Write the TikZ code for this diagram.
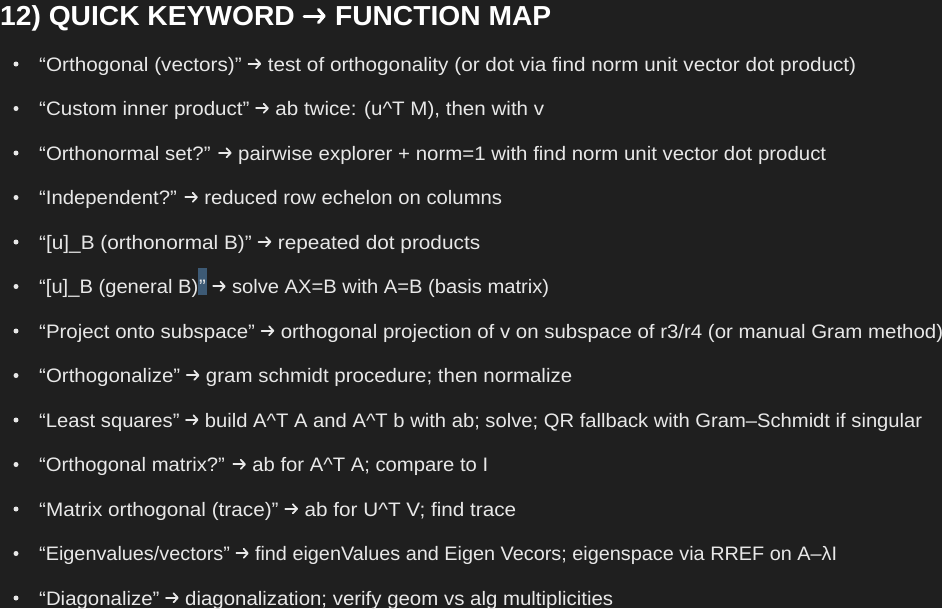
\documentclass[tikz,border=0pt]{standalone}
\usepackage{fontspec}
\usepackage{graphicx}
\usetikzlibrary{arrows.meta}
\setmainfont{Liberation Sans}
\definecolor{bgc}{HTML}{1F1F1F}
\definecolor{txt}{HTML}{E8E8E8}
\definecolor{hil}{HTML}{3D5A75}
\newcommand{\fitline}[2]{\resizebox{#1pt}{\height}{#2}}
\newcommand{\arr}{\tikz[baseline=0pt]\draw[txt,line width=1.7pt,line cap=round,-{Straight Barb[length=4pt,width=9pt,line cap=round,line join=round]}] (0pt,7.2pt) -- (12pt,7.2pt);}
\newcommand{\tarr}{\tikz[baseline=0pt]\draw[white,line width=3pt,line cap=round,-{Straight Barb[length=5.5pt,width=13pt,line cap=round,line join=round]}] (0pt,9pt) -- (21pt,9pt);}
\newcommand{\hlq}{{\setlength\fboxsep{0pt}\colorbox{hil}{\hspace{0.8pt}\rule[-1.5pt]{0pt}{27pt}”\hspace{0.8pt}}}}
\begin{document}
\begin{tikzpicture}[x=1pt,y=-1pt,
  itemtext/.style={anchor=base west,inner sep=0pt,text=txt,font=\fontsize{19.5}{22}\selectfont},
  titletext/.style={anchor=base west,inner sep=0pt,text=white,font=\fontsize{27.5}{30}\selectfont\bfseries},
  bulletdot/.style={circle,fill=txt,inner sep=0pt,minimum size=5pt}]
\fill[bgc] (0,0) rectangle (942,608);
\useasboundingbox (0,0) rectangle (942,608);
\node[titletext] (title) at (0,25) {\fitline{551}{12) QUICK KEYWORD \tarr{} FUNCTION MAP}};
\foreach \i/\w/\t in {
 0/817/{“Orthogonal (vectors)” \arr{} test of orthogonality (or dot via find norm unit vector dot product)},
 1/505/{“Custom inner product” \arr{} ab twice: (u\string^T M), then with v},
 2/787/{“Orthonormal set?” \arr{} pairwise explorer + norm=1 with find norm unit vector dot product},
 3/463/{“Independent?” \arr{} reduced row echelon on columns},
 4/441/{“[u]\_B (orthonormal B)” \arr{} repeated dot products},
 5/510/{“[u]\_B (general B)\hlq{} \arr{} solve AX=B with A=B (basis matrix)},
 6/904/{“Project onto subspace” \arr{} orthogonal projection of v on subspace of r3/r4 (or manual Gram method)},
 7/533/{“Orthogonalize” \arr{} gram schmidt procedure; then normalize},
 8/883/{“Least squares” \arr{} build A\string^T A and A\string^T b with ab; solve; QR fallback with Gram–Schmidt if singular},
 9/449/{“Orthogonal matrix?” \arr{} ab for A\string^T A; compare to I},
 10/477/{“Matrix orthogonal (trace)” \arr{} ab for U\string^T V; find trace},
 11/798/{“Eigenvalues/vectors” \arr{} find eigenValues and Eigen Vecors; eigenspace via RREF on A–λI},
 12/574/{“Diagonalize” \arr{} diagonalization; verify geom vs alg multiplicities}}
{
  \pgfmathsetmacro{\yb}{71+44.5*\i}
  \node[bulletdot] (b\i) at (16,\yb-7) {};
  \node[itemtext] (t\i) at (39,\yb) {\fitline{\w}{\t}};
}
\end{tikzpicture}
\end{document}
